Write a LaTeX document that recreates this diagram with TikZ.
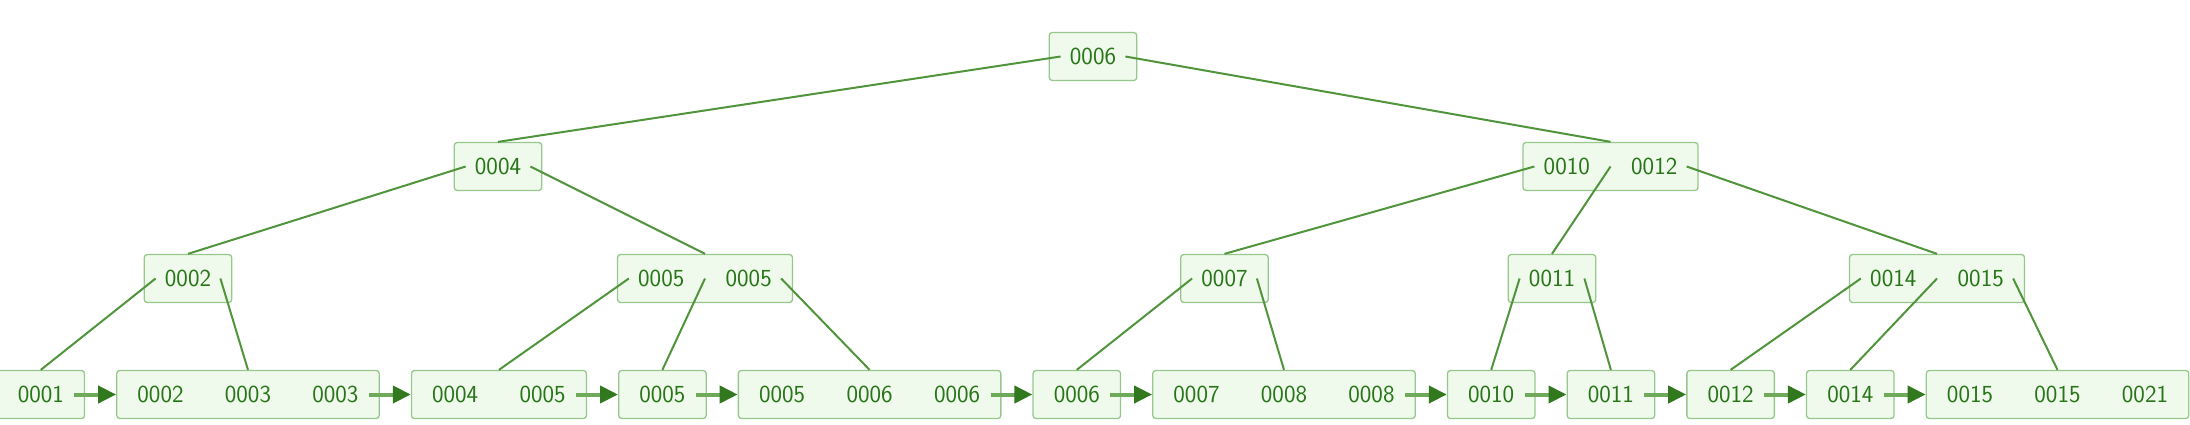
\documentclass[tikz,border=0pt]{standalone}
\usepackage{fontspec}
\usepackage{tikz}
\usetikzlibrary{positioning,arrows.meta}
\definecolor{KeyText}{RGB}{40,118,25}
\definecolor{BoxLine}{RGB}{150,200,140}
\definecolor{BoxFill}{RGB}{240,250,236}
\definecolor{LinkGreen}{RGB}{80,148,60}
\definecolor{ShaftGreen}{RGB}{110,170,90}
\definecolor{HeadGreen}{RGB}{50,120,30}
\tikzset{
  keybox/.style={rectangle, rounded corners=3pt, draw=BoxLine, fill=BoxFill,
    line width=1.3pt, inner sep=0pt, minimum height=48pt, text=KeyText,
    font=\sffamily\fontsize{24.5}{26}\selectfont},
  link/.style={draw=LinkGreen, line width=2pt},
  leafarrow/.style={draw=ShaftGreen, line width=4pt,
    -{Triangle[length=18pt,width=17pt,color=HeadGreen]}}
}
\newcommand{\kk}[1]{\makebox[87.5pt]{#1}}

\begin{document}
\begin{tikzpicture}[x=1pt, y=-1pt, node distance=30.9pt]
  \useasboundingbox (0,0) rectangle (2190,424);
  \node[keybox] (root) at (1093,56.5) {\kk{0006}};
  \node[keybox] (k4) at (498,166.5) {\kk{0004}};
  \node[keybox] (k1012) at (1610.5,166.5) {\kk{0010}\kk{0012}};
  \node[keybox] (k2) at (188,278.5) {\kk{0002}};
  \node[keybox] (k55) at (705,278.5) {\kk{0005}\kk{0005}};
  \node[keybox] (k7) at (1224.5,278.5) {\kk{0007}};
  \node[keybox] (k11) at (1552,278.5) {\kk{0011}};
  \node[keybox] (k1415) at (1937,278.5) {\kk{0014}\kk{0015}};

  \node[keybox, anchor=west] (l1) at (-3.6,394.5) {\kk{0001}};
  \node[keybox, right=of l1] (l2) {\kk{0002}\kk{0003}\kk{0003}};
  \node[keybox, right=of l2] (l3) {\kk{0004}\kk{0005}};
  \node[keybox, right=of l3] (l4) {\kk{0005}};
  \node[keybox, right=of l4] (l5) {\kk{0005}\kk{0006}\kk{0006}};
  \node[keybox, right=of l5] (l6) {\kk{0006}};
  \node[keybox, right=of l6] (l7) {\kk{0007}\kk{0008}\kk{0008}};
  \node[keybox, right=of l7] (l8) {\kk{0010}};
  \node[keybox, right=of l8] (l9) {\kk{0011}};
  \node[keybox, right=of l9] (l10) {\kk{0012}};
  \node[keybox, right=of l10] (l11) {\kk{0014}};
  \node[keybox, right=of l11] (l12) {\kk{0015}\kk{0015}\kk{0021}};

  \draw[link] ([xshift=12pt]root.west) -- (k4.north);
  \draw[link] ([xshift=-12pt]root.east) -- (k1012.north);
  \draw[link] ([xshift=12pt]k4.west) -- (k2.north);
  \draw[link] ([xshift=-12pt]k4.east) -- (k55.north);
  \draw[link] ([xshift=12pt]k1012.west) -- (k7.north);
  \draw[link] (k1012.center) -- (k11.north);
  \draw[link] ([xshift=-12pt]k1012.east) -- (k1415.north);
  \draw[link] ([xshift=12pt]k2.west) -- (l1.north);
  \draw[link] ([xshift=-12pt]k2.east) -- (l2.north);
  \draw[link] ([xshift=12pt]k55.west) -- (l3.north);
  \draw[link] (k55.center) -- (l4.north);
  \draw[link] ([xshift=-12pt]k55.east) -- (l5.north);
  \draw[link] ([xshift=12pt]k7.west) -- (l6.north);
  \draw[link] ([xshift=-12pt]k7.east) -- (l7.north);
  \draw[link] ([xshift=12pt]k11.west) -- (l8.north);
  \draw[link] ([xshift=-12pt]k11.east) -- (l9.north);
  \draw[link] ([xshift=12pt]k1415.west) -- (l10.north);
  \draw[link] (k1415.center) -- (l11.north);
  \draw[link] ([xshift=-12pt]k1415.east) -- (l12.north);

  \draw[leafarrow] ([xshift=-11pt]l1.east) -- (l2.west);
  \draw[leafarrow] ([xshift=-11pt]l2.east) -- (l3.west);
  \draw[leafarrow] ([xshift=-11pt]l3.east) -- (l4.west);
  \draw[leafarrow] ([xshift=-11pt]l4.east) -- (l5.west);
  \draw[leafarrow] ([xshift=-11pt]l5.east) -- (l6.west);
  \draw[leafarrow] ([xshift=-11pt]l6.east) -- (l7.west);
  \draw[leafarrow] ([xshift=-11pt]l7.east) -- (l8.west);
  \draw[leafarrow] ([xshift=-11pt]l8.east) -- (l9.west);
  \draw[leafarrow] ([xshift=-11pt]l9.east) -- (l10.west);
  \draw[leafarrow] ([xshift=-11pt]l10.east) -- (l11.west);
  \draw[leafarrow] ([xshift=-11pt]l11.east) -- (l12.west);
\end{tikzpicture}
\end{document}
